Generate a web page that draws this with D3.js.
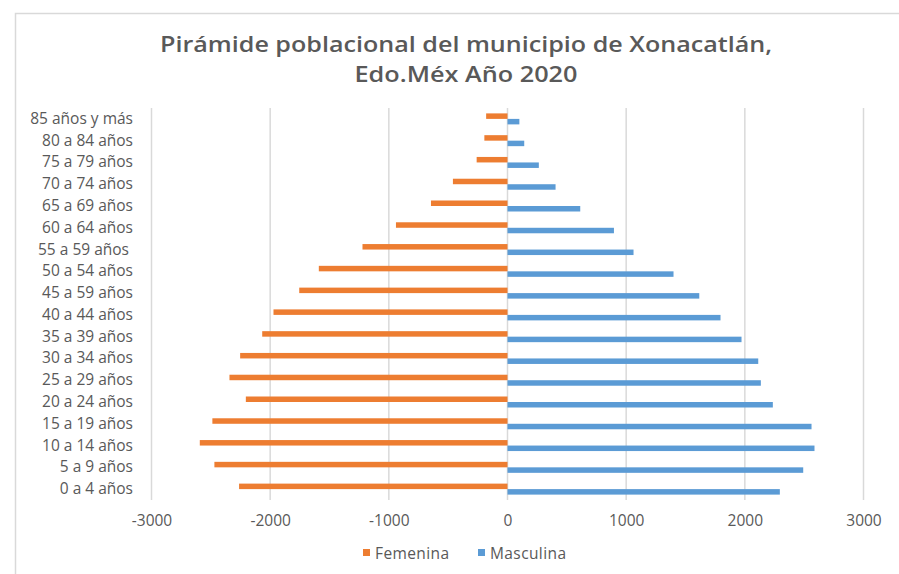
<!DOCTYPE html>
<html><head><meta charset="utf-8">
<script src="https://cdn.jsdelivr.net/npm/d3@7"></script>
<style>
html,body{margin:0;padding:0;background:#fff;}
text{font-family:"Open Sans",Lato,sans-serif;}
</style></head>
<body>
<svg id="chart" width="899" height="574"></svg>
<script>
const categories = ["85 años y más","80 a 84 años","75 a 79 años","70 a 74 años","65 a 69 años","60 a 64 años","55 a 59 años ","50 a 54 años","45 a 59 años","40 a 44 años","35 a 39 años","30 a 34 años","25 a 29 años","20 a 24 años","15 a 19 años","10 a 14 años","5 a 9 años","0 a 4 años"];
const femenina = [-180,-195,-260,-460,-645,-940,-1222,-1590,-1755,-1972,-2067,-2253,-2343,-2205,-2487,-2593,-2470,-2262];
const masculina = [100,141,264,405,613,897,1062,1399,1616,1795,1972,2113,2135,2236,2562,2587,2492,2295];
const seriesNames = ["Femenina","Masculina"];
const seriesColors = ["#ED7D31","#5B9BD5"];
const xTicks = [-3000,-2000,-1000,0,1000,2000,3000];
const titleLines = ["Pirámide poblacional del municipio de Xonacatlán,","Edo.Méx Año 2020"];

const svg = d3.select("#chart");
const plot = {left:151.5, right:863.5, top:108, bottom:500};
const FONT = "'Open Sans',Lato,sans-serif";

// frame
svg.append("path").attr("d","M15.5,574 L15.5,13.5 L899,13.5")
  .attr("fill","none").attr("stroke","#D9D9D9").attr("stroke-width",1.5);

// title
const titleWidths = [612, 223];
svg.append("g").selectAll("text").data(titleLines).join("text")
  .attr("x",466).attr("y",(d,i)=>52+i*30)
  .attr("text-anchor","middle").attr("font-size",22).attr("font-weight",600)
  .attr("fill","#595959")
  .attr("textLength",(d,i)=>titleWidths[i]).attr("lengthAdjust","spacingAndGlyphs")
  .text(d=>d);

const x = d3.scaleLinear().domain([-3000,3000]).range([plot.left,plot.right]);
const y = d3.scaleBand().domain(categories).range([plot.top,plot.bottom]).paddingInner(0.495).paddingOuter(0.2475);
const ys = d3.scaleBand().domain(seriesNames).range([0,y.bandwidth()]);

// gridlines
svg.append("g").selectAll("line").data(xTicks).join("line")
  .attr("x1",d=>x(d)).attr("x2",d=>x(d)).attr("y1",plot.top).attr("y2",plot.bottom)
  .attr("stroke","#D9D9D9").attr("stroke-width",1.5);

// x axis labels
const xAxis = d3.axisBottom(x).tickValues(xTicks).tickSize(0).tickPadding(0).tickFormat(d=>String(d));
const gx = svg.append("g").attr("transform",`translate(0,${plot.bottom})`).call(xAxis);
gx.select(".domain").remove();
gx.selectAll("text").attr("font-size",15.5).attr("fill","#595959").attr("dy",0).attr("y",26)
  .style("font-family",FONT);

// y axis labels
const yAxis = d3.axisLeft(y).tickSize(0).tickPadding(0);
const gy = svg.append("g").attr("transform",`translate(133,0)`).call(yAxis);
gy.select(".domain").remove();
gy.selectAll("text").attr("font-size",15.5).attr("fill","#595959").style("white-space","pre")
  .style("font-family",FONT).attr("x",0).attr("y",0);

// bars
const data = [femenina, masculina];
data.forEach((vals,si)=>{
  svg.append("g").selectAll("rect").data(vals).join("rect")
    .attr("x",d=>Math.min(x(0),x(d)))
    .attr("width",d=>Math.abs(x(d)-x(0)))
    .attr("y",(d,i)=>y(categories[i])+ys(seriesNames[si]))
    .attr("height",ys.bandwidth())
    .attr("fill",seriesColors[si]);
});

// legend
const legX = [363,478];
const lg = svg.append("g");
seriesNames.forEach((n,i)=>{
  lg.append("rect").attr("x",legX[i]).attr("y",549).attr("width",7).attr("height",7).attr("fill",seriesColors[i]);
  lg.append("text").attr("x",legX[i]+12).attr("y",558.5).attr("font-size",15.5).attr("fill","#595959")
    .attr("letter-spacing",0.4).style("font-family",FONT).text(n);
});
</script>
</body></html>
